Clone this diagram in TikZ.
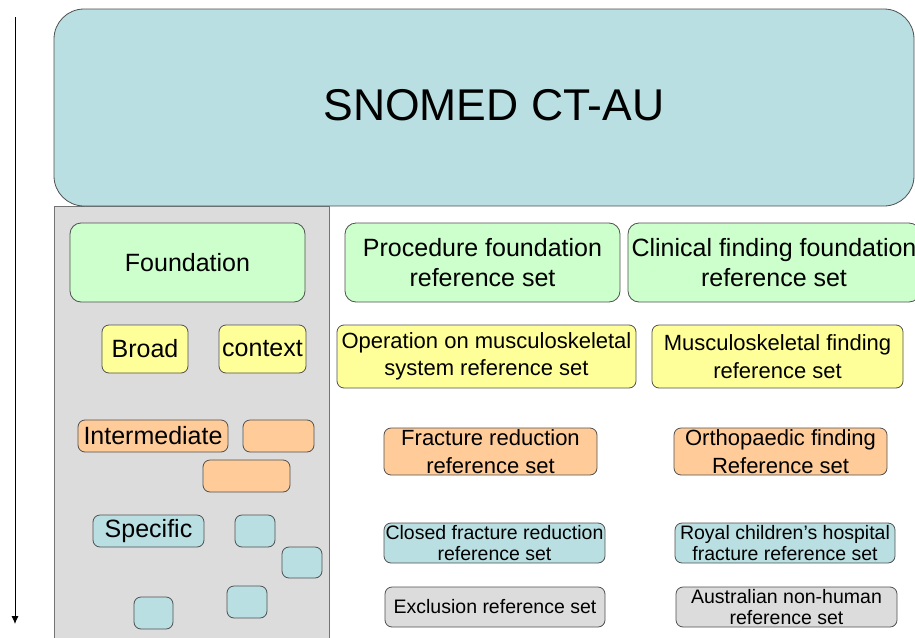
\documentclass[tikz,border=0pt]{standalone}
\usepackage{fontspec}
\setmainfont{Liberation Sans}
\usetikzlibrary{arrows.meta}

\definecolor{snomedblue}{HTML}{B9DFE2}
\definecolor{foundgreen}{HTML}{CCFFCC}
\definecolor{broadyellow}{HTML}{FFFF99}
\definecolor{interorange}{HTML}{FFCC99}
\definecolor{panelgray}{HTML}{DCDCDC}
\definecolor{edgegray}{HTML}{505050}

\tikzset{
  boxdim/.style 2 args={minimum width=#1pt, minimum height=#2pt},
  refset/.style={draw=edgegray, line width=0.8pt, rounded corners=7pt,
                 inner sep=0pt, align=center},
  foundation/.style={refset, fill=foundgreen, rounded corners=11pt},
  broad/.style={refset, fill=broadyellow},
  intermediate/.style={refset, fill=interorange},
  specific/.style={refset, fill=snomedblue},
  excluded/.style={refset, fill=panelgray},
  bigfont/.style={font=\fontsize{25pt}{30pt}\selectfont},
  midfont/.style={font=\fontsize{22pt}{27.5pt}\selectfont},
  smallfont/.style={font=\fontsize{19.5pt}{21.5pt}\selectfont},
}

\begin{document}
\begin{tikzpicture}[x=1pt, y=-1pt]
\useasboundingbox (0,0) rectangle (915,637); % adjust bounding box

% level axis
\coordinate (axistop) at (15,17);
\coordinate (axisend) at (15,624);
\draw [line width=0.9pt, -{Latex[length=8pt, width=7pt]}] (axistop) -- (axisend);

% left panel and the whole release
\node [draw=edgegray!80, fill=panelgray, line width=0.8pt, boxdim={275}{460}] (panel) at (191.5,436) {};
\node [draw=edgegray, fill=snomedblue, line width=0.8pt, rounded corners=30pt, boxdim={860}{197}] (snomed) at (484,107.5) {};
\node [font=\fontsize{44.5pt}{50pt}\selectfont, inner sep=0pt] (snomedlabel) at (494,105.5) {SNOMED CT-AU};

% levels
\node [foundation, bigfont, boxdim={235}{79}] (foundlevel) at (187.5,262.5) {Foundation};
\node [broad, bigfont, boxdim={86}{48}] (broadlevel) at (145,349) {Broad};
\node [broad, bigfont, boxdim={87}{48}] (contextlevel) at (262.5,349) {context};
\node [intermediate, bigfont, boxdim={150}{32}] (interlevel) at (153,436) {Intermediate};
\node [intermediate, boxdim={71}{32}] (interA) at (278.5,436) {};
\node [intermediate, boxdim={87}{32}] (interB) at (246.5,476) {};
\node [specific, bigfont, boxdim={111}{32}] (speclevel) at (148.5,531) {Specific};
\node [specific, boxdim={40}{32}] (specA) at (255,531) {};
\node [specific, boxdim={40}{31}] (specB) at (302,562.5) {};
\node [specific, boxdim={40}{32}] (specC) at (247,602) {};
\node [specific, boxdim={39}{32}] (specD) at (153.5,613) {};

% reference sets
\node [foundation, bigfont, boxdim={275}{79}] (procfound) at (482.5,262.5) {Procedure foundation\\reference set};
\node [foundation, bigfont, boxdim={292}{79}] (clinfound) at (774,262.5) {Clinical finding foundation\\reference set};
\node [broad, midfont, boxdim={299}{63}] (msksystem) at (486.5,356.5) {Operation on musculoskeletal\\system reference set};
\node [broad, midfont, boxdim={251}{63}] (mskfinding) at (777.5,356.5) {Musculoskeletal finding\\reference set};
\node [intermediate, midfont, boxdim={213}{47}] (fracred) at (490.5,451.5) {Fracture reduction\\reference set};
\node [intermediate, midfont, boxdim={213}{47}] (orthofinding) at (780.5,451.5) {Orthopaedic finding\\Reference set};
\node [specific, smallfont, boxdim={221}{40}] (closedfrac) at (494.5,543) {Closed fracture reduction\\reference set};
\node [specific, smallfont, boxdim={220}{40}] (royalfrac) at (785,543) {Royal children’s hospital\\fracture reference set};
\node [excluded, smallfont, boxdim={220}{40}] (exclusion) at (495,607) {Exclusion reference set};
\node [excluded, smallfont, boxdim={221}{40}] (nonhuman) at (786.5,607) {Australian non-human\\reference set};
\end{tikzpicture}
\end{document}
